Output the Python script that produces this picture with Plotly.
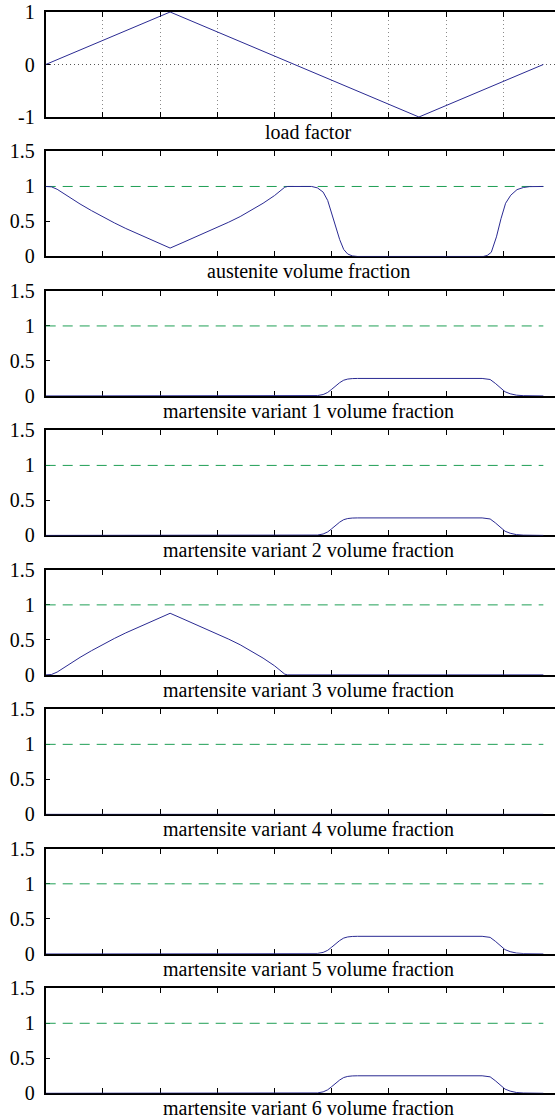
import plotly.graph_objects as go

# ---- data (time in load steps) ----
load_t = [0, 21.75, 65.25, 87]
load_v = [0, 1, -1, 0]

austenite_t = [0, 1, 2, 4, 6, 8, 10, 12, 14, 16, 18, 20, 21.75, 24, 26, 28, 30, 32, 34, 36, 38,
               40, 41, 41.8, 42.3, 46.5, 47.5, 48.5, 49.3, 50.0, 50.7, 51.4, 52.1, 52.8, 53.6, 54.5,
               76.5, 77.2, 77.9, 78.8, 79.6, 80.4, 81.3, 82.4, 83.5, 84.6, 87]
austenite_v = [1.0, 0.995, 0.96, 0.85, 0.75, 0.655, 0.565, 0.48, 0.4, 0.325, 0.255, 0.18, 0.12, 0.2,
               0.27, 0.34, 0.415, 0.49, 0.57, 0.66, 0.76, 0.87, 0.94, 0.99, 1.0, 1.0, 0.98, 0.92, 0.8,
               0.62, 0.42, 0.24, 0.1, 0.035, 0.008, 0.0, 0.0, 0.015, 0.06, 0.28, 0.54, 0.76, 0.875,
               0.955, 0.985, 0.998, 1.0]

variant_t = [0, 46.5, 47.5, 48.5, 49.3, 50.0, 50.7, 51.4, 52.1, 52.8, 53.6, 54.5, 76.3, 77.0, 77.7,
             78.6, 79.5, 80.3, 81.2, 82.3, 83.5, 84.6, 87]
variant_1 = [0, 0, 0.005, 0.02, 0.05, 0.095, 0.145, 0.19, 0.225, 0.241, 0.248, 0.25, 0.25, 0.246,
             0.235, 0.18, 0.115, 0.06, 0.031, 0.011, 0.004, 0.0, 0]
variant_2 = [0, 0, 0.005, 0.02, 0.05, 0.095, 0.145, 0.19, 0.225, 0.241, 0.248, 0.25, 0.25, 0.246,
             0.235, 0.18, 0.115, 0.06, 0.031, 0.011, 0.004, 0.0, 0]
variant_5 = [0, 0, 0.005, 0.02, 0.05, 0.095, 0.145, 0.19, 0.225, 0.241, 0.248, 0.25, 0.25, 0.246,
             0.235, 0.18, 0.115, 0.06, 0.031, 0.011, 0.004, 0.0, 0]
variant_6 = [0, 0, 0.005, 0.02, 0.05, 0.095, 0.145, 0.19, 0.225, 0.241, 0.248, 0.25, 0.25, 0.246,
             0.235, 0.18, 0.115, 0.06, 0.031, 0.011, 0.004, 0.0, 0]

variant3_t = [0, 1, 2, 4, 6, 8, 10, 12, 14, 16, 18, 20, 21.75, 24, 26, 28, 30, 32, 34, 36, 38,
              40, 41, 41.8, 42.3, 87]
variant_3 = [0, 0.005, 0.04, 0.15, 0.25, 0.345, 0.435, 0.52, 0.6, 0.675, 0.745, 0.82, 0.88, 0.8,
             0.73, 0.66, 0.585, 0.51, 0.43, 0.34, 0.24, 0.13, 0.06, 0.01, 0.0, 0.0]

variant4_t = [0, 87]
variant_4 = [0, 0]

limit_t = [0, 87]
limit_v = [1, 1]

titles = ["load factor", "austenite volume fraction",
          "martensite variant 1 volume fraction", "martensite variant 2 volume fraction",
          "martensite variant 3 volume fraction", "martensite variant 4 volume fraction",
          "martensite variant 5 volume fraction", "martensite variant 6 volume fraction"]

series = [(load_t, load_v), (austenite_t, austenite_v), (variant_t, variant_1),
          (variant_t, variant_2), (variant3_t, variant_3), (variant4_t, variant_4),
          (variant_t, variant_5), (variant_t, variant_6)]

x_ticks = [0, 10, 20, 30, 40, 50, 60, 70, 80]

# ---- layout geometry (pixels) ----
W, H = 555, 1120
LEFT = 45.7
TOP0, PITCH, PH = 12.0, 139.47, 105.0
PX_PER_STEP = 5.72
LABEL_X = 308
FONT = "Liberation Serif"
LINE_BLUE = "#2a2a92"
DASH_GREEN = "#1f9f55"

fig = go.Figure()
layout = dict(template="none", width=W, height=H, margin=dict(l=0, r=0, t=0, b=0, pad=0),
              autosize=False, paper_bgcolor="white", plot_bgcolor="white", showlegend=False,
              font=dict(family=FONT, size=20, color="black"))
annotations = []

for k in range(8):
    n = k + 1
    xa = "x" if n == 1 else f"x{n}"
    ya = "y" if n == 1 else f"y{n}"
    top = TOP0 + PITCH * k
    bot = top + PH
    ydom = [1 - bot / H, 1 - top / H]

    if k > 0:
        fig.add_trace(go.Scatter(x=limit_t, y=limit_v, mode="lines", xaxis=xa, yaxis=ya,
                                 line=dict(color=DASH_GREEN, width=1, dash="10px,7px")))
    t, v = series[k]
    fig.add_trace(go.Scatter(x=t, y=v, mode="lines", xaxis=xa, yaxis=ya,
                             line=dict(color=LINE_BLUE, width=1)))

    first = (k == 0)
    layout[f"xaxis{n}" if n > 1 else "xaxis"] = dict(
        domain=[LEFT / W, 1], range=[0, (W - LEFT) / PX_PER_STEP], anchor=ya,
        tickvals=x_ticks, showticklabels=False, ticks="inside", ticklen=5, tickwidth=1,
        tickcolor="black", showline=True, linecolor="black", linewidth=2, mirror="ticks",
        showgrid=first, gridcolor="#8a8a8a", griddash="1px,3px", gridwidth=1,
        zeroline=False, layer="below traces", automargin=False, fixedrange=True)
    if first:
        yvals, ytext, yrange = [-1, 0, 1], ["-1", "0", "1"], [-1, 1]
    else:
        yvals, ytext, yrange = [0, 0.5, 1, 1.5], ["0", "0.5", "1", "1.5"], [0, 1.5]
    layout[f"yaxis{n}" if n > 1 else "yaxis"] = dict(
        domain=ydom, range=yrange, anchor=xa, tickvals=yvals, ticktext=ytext,
        ticks="inside", ticklen=4, tickwidth=1, tickcolor="black",
        showline=True, linecolor="black", linewidth=2, mirror=False,
        showgrid=first, gridcolor="#555555", griddash="1px,3px", gridwidth=1,
        zeroline=False, layer="below traces", ticklabelstandoff=5, automargin=False,
        tickfont=dict(family=FONT, size=20, color="black"), fixedrange=True)

    annotations.append(dict(text=titles[k], xref="paper", yref="paper",
                            x=LABEL_X / W, y=1 - (bot + 14.8) / H, xanchor="center",
                            yanchor="middle", showarrow=False,
                            font=dict(family=FONT, size=20, color="black")))

layout["annotations"] = annotations
fig.update_layout(**layout)
fig.write_html("out.html")
